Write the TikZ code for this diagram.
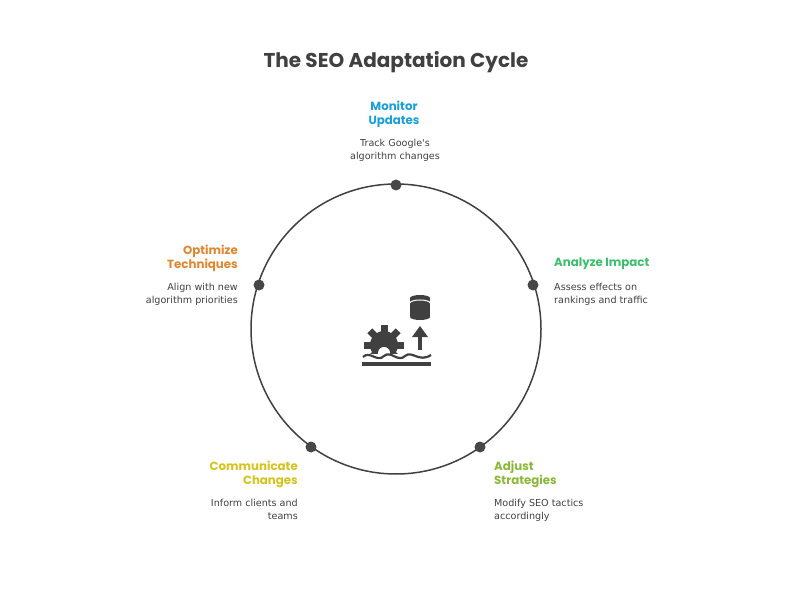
\documentclass[tikz,border=0pt]{standalone}
\usepackage{fontspec}
\setmainfont{Poppins}
\newfontfamily\bodyf{DejaVu Sans}
\begin{document}
\begin{tikzpicture}[x=1pt,y=-1pt,
 ttl/.style={font=\bfseries\fontsize{11.8}{14}\selectfont,align=#1,inner sep=0pt},
 body/.style={font=\bodyf\fontsize{9.6}{13}\selectfont,text=black!75,align=#1,inner sep=0pt},
 dot/.style={circle,fill=black!72,inner sep=0pt,minimum size=11pt}]
\useasboundingbox (0,0) rectangle (792,612);
\definecolor{cb}{HTML}{1AA0D8}\definecolor{cg}{HTML}{3BBF6A}
\definecolor{cy}{HTML}{8BB83A}\definecolor{cyy}{HTML}{D6C21A}\definecolor{co}{HTML}{E0862E}
\node[font=\bfseries\fontsize{20}{22}\selectfont,text=black!75] (title) at (396,62) {The SEO Adaptation Cycle};
\node[draw=black!75,line width=1.5pt,circle,minimum size=290pt] (cyc) at (396,329) {};
\node[dot] (d1) at (396,185) {};
\node[dot] (d2) at (533,285) {};
\node[dot] (d3) at (480,447) {};
\node[dot] (d4) at (311,447) {};
\node[dot] (d5) at (259,285) {};
\node[ttl=center,text=cb,anchor=north] (t1) at (394,101) {Monitor\\Updates};
\node[body=center,anchor=north] (b1) at (395,139) {Track Google's\\algorithm changes};
\node[ttl=left,text=cg,anchor=north west] (t2) at (554,258) {Analyze Impact};
\node[body=left,anchor=north west] (b2) at (554,283) {Assess effects on\\rankings and traffic};
\node[ttl=left,text=cy,anchor=north west] (t3) at (494,461) {Adjust\\Strategies};
\node[body=left,anchor=north west] (b3) at (494,499) {Modify SEO tactics\\accordingly};
\node[ttl=right,text=cyy,anchor=north east] (t4) at (298,461) {Communicate\\Changes};
\node[body=right,anchor=north east] (b4) at (298,499) {Inform clients and\\teams};
\node[ttl=right,text=co,anchor=north east] (t5) at (238,245) {Optimize\\Techniques};
\node[body=right,anchor=north east] (b5) at (238,283) {Align with new\\algorithm priorities};
% icon
\begin{scope}[fill=black!75]
\fill (410,298) rectangle (430,317);
\fill (420,317) ellipse (10 and 3);
\fill[black!75] (420,298) ellipse (10 and 3);
\draw[white,line width=1pt] (410,303) arc[start angle=180,end angle=360,x radius=10,y radius=3];
\fill (418,350) rectangle (422,336);
\fill (412,337) -- (420,326) -- (428,337) -- cycle;
\fill (362,362) rectangle (431,366);
\begin{scope}
\clip (355,320) rectangle (412,353);
\foreach \a in {0,45,...,315} \fill[rotate around={\a:(384,345)}] (380.5,325) rectangle (387.5,335);
\fill (384,345) circle (14);
\end{scope}
\fill[white] (384,353) circle (6);
\draw[black!75,line width=2.2pt] (363,357) .. controls (370,350) and (377,363) .. (384,356) .. controls (391,350) and (398,363) .. (405,356) .. controls (412,350) and (419,363) .. (431,355);
\end{scope}
\end{tikzpicture}
\end{document}
